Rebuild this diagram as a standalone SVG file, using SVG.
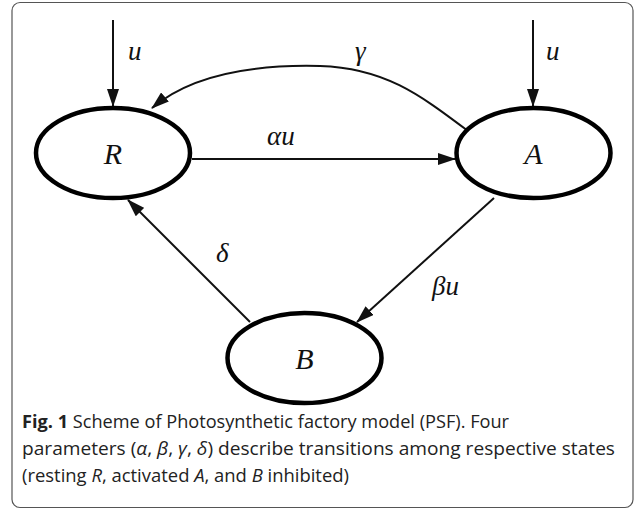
<svg xmlns="http://www.w3.org/2000/svg" width="636" height="511" viewBox="0 0 636 511">
  <style>
    .frame { fill: #ffffff; stroke: #555555; stroke-width: 1.2; }
    .state { fill: #ffffff; stroke: #000000; stroke-width: 4.5; }
    .edge { fill: none; stroke: #111111; stroke-width: 2; }
    .math { font-family: "Liberation Serif", "DejaVu Serif", serif; font-style: italic; fill: #111111; }
    .node-label { font-size: 30px; }
    .edge-label { font-size: 27px; }
    .caption { font-family: "Open Sans", "Noto Sans", sans-serif; font-size: 18.5px; fill: #222222; }
    .caption .b { font-weight: bold; }
    .caption .i { font-style: italic; }
  </style>
  <defs>
    <marker id="arrow" viewBox="0 0 18 12" refX="17" refY="6" markerWidth="18" markerHeight="12" markerUnits="userSpaceOnUse" orient="auto">
      <path d="M0,0 L18,6 L0,12 Z" fill="#111111"/>
    </marker>
  </defs>

  <rect class="frame" x="12" y="2.5" width="621" height="505" rx="8"/>

  <g id="connectors">
    <line class="edge" x1="113" y1="20" x2="113" y2="106" marker-end="url(#arrow)"/>
    <line class="edge" x1="533" y1="20" x2="533" y2="106" marker-end="url(#arrow)"/>
    <line class="edge" x1="192" y1="159" x2="455" y2="159" marker-end="url(#arrow)"/>
    <path class="edge" d="M468,131 C420,95 385,68 320,66 C240,64 185,80 152,108" marker-end="url(#arrow)"/>
    <line class="edge" x1="494" y1="198" x2="357" y2="322" marker-end="url(#arrow)"/>
    <line class="edge" x1="250" y1="322" x2="128" y2="200" marker-end="url(#arrow)"/>
    <text class="math edge-label" x="128" y="60">u</text>
    <text class="math edge-label" x="546" y="60">u</text>
    <text class="math edge-label" x="267" y="145">αu</text>
    <text class="math edge-label" x="355" y="60">γ</text>
    <text class="math edge-label" x="432" y="295">βu</text>
    <text class="math edge-label" x="216" y="262">δ</text>
  </g>

  <g id="node-R">
    <ellipse class="state" cx="113" cy="153" rx="77" ry="45"/>
    <text class="math node-label" x="113" y="164" text-anchor="middle">R</text>
  </g>
  <g id="node-A">
    <ellipse class="state" cx="533.5" cy="153" rx="77" ry="45"/>
    <text class="math node-label" x="533.5" y="164" text-anchor="middle">A</text>
  </g>
  <g id="node-B">
    <ellipse class="state" cx="304.5" cy="358" rx="77" ry="45"/>
    <text class="math node-label" x="304.5" y="369" text-anchor="middle">B</text>
  </g>

  <g id="caption" class="caption">
    <text x="22" y="428" textLength="487" lengthAdjust="spacingAndGlyphs"><tspan class="b">Fig. 1</tspan> Scheme of Photosynthetic factory model (PSF). Four</text>
    <text x="22" y="455" textLength="593" lengthAdjust="spacingAndGlyphs">parameters (<tspan class="i">α</tspan>, <tspan class="i">β</tspan>, <tspan class="i">γ</tspan>, <tspan class="i">δ</tspan>) describe transitions among respective states</text>
    <text x="22" y="482" textLength="327" lengthAdjust="spacingAndGlyphs">(resting <tspan class="i">R</tspan>, activated <tspan class="i">A</tspan>, and <tspan class="i">B</tspan> inhibited)</text>
  </g>
</svg>
